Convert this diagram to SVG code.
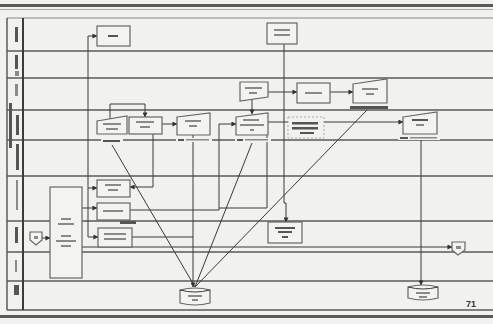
<svg xmlns="http://www.w3.org/2000/svg" width="493" height="324" viewBox="0 0 493 324">
<style>
.lane{stroke:#5a5a5a;stroke-width:1.5;fill:none}
.box{fill:#f3f3ef;stroke:#666;stroke-width:1.2}
.c{stroke:#3a3a3a;stroke-width:1;fill:none}
.ca{stroke:#3a3a3a;stroke-width:1;fill:none;marker-end:url(#ah)}
.t{fill:#8a8a86}
.td{fill:#555552}
.lbl{fill:#f1f1ed}
.pg{font-family:"Liberation Sans",Arial,sans-serif;font-size:9px;font-weight:bold;fill:#333}
</style>
<defs>
<marker id="ah" viewBox="0 0 6 6" refX="5.5" refY="3" markerWidth="5" markerHeight="5" orient="auto" markerUnits="userSpaceOnUse">
<path d="M0,0 L6,3 L0,6 z" fill="#333"/>
</marker>
</defs>
<rect width="493" height="324" fill="#f1f1ed"/>
<rect x="0" y="4" width="493" height="3" fill="#5a5a5a"/>
<rect x="0" y="9" width="493" height="1" fill="#a8a8a4"/>
<rect x="0" y="315" width="493" height="3" fill="#5a5a5a"/>
<g id="lanes">
<line x1="7" y1="18" x2="493" y2="18" stroke="#8a8a86" stroke-width="1.2"/>
<line class="lane" x1="7" y1="51" x2="493" y2="51"/>
<line class="lane" x1="7" y1="78" x2="493" y2="78"/>
<line class="lane" x1="7" y1="110" x2="493" y2="110"/>
<line class="lane" x1="7" y1="140" x2="493" y2="140"/>
<line class="lane" x1="7" y1="176" x2="493" y2="176"/>
<line class="lane" x1="7" y1="221" x2="493" y2="221"/>
<line class="lane" x1="7" y1="252" x2="493" y2="252"/>
<line class="lane" x1="7" y1="281" x2="493" y2="281"/>
<line class="lane" x1="7" y1="310" x2="493" y2="310"/>
<line class="lane" x1="7" y1="18" x2="7" y2="310"/>
<line x1="23" y1="18" x2="23" y2="310" stroke="#3c3c3c" stroke-width="2"/>
<rect class="td" x="15" y="27" width="3" height="15"/>
<rect class="td" x="15" y="55" width="3" height="14"/>
<rect class="t" x="15" y="71" width="4" height="5"/>
<rect class="t" x="15" y="84" width="3" height="12"/>
<rect class="td" x="9" y="103" width="3" height="45"/>
<rect class="td" x="16" y="115" width="3" height="20"/>
<rect class="td" x="16" y="144" width="3" height="26"/>
<rect class="t" x="16" y="180" width="2" height="30"/>
<rect class="td" x="15" y="227" width="3" height="16"/>
<rect class="t" x="15" y="260" width="2" height="12"/>
<rect class="td" x="14" y="285" width="5" height="10"/>
</g>
<g id="connectors">
<path class="ca" d="M88,36 H97"/>
<path class="c" d="M88,36 V237"/>
<path class="ca" d="M88,188 H97"/>
<path class="ca" d="M88,237 H98"/>
<path class="ca" d="M82,208 H97"/>
<path class="ca" d="M130,210 H219 V124 H236"/>
<path class="c" d="M267,135 V208 H219"/>
<path class="ca" d="M110,119 V104 H145 V117"/>
<path class="ca" d="M162,124 H177"/>
<path class="ca" d="M153,134 V187 H130"/>
<path class="ca" d="M252,100 V114"/>
<path class="ca" d="M268,92 H297"/>
<path class="ca" d="M330,92 H353"/>
<path class="ca" d="M284,44 V203 H286 V222"/>
<path class="ca" d="M268,122 H403"/>
<path class="ca" d="M193,135 V287"/>
<path class="c" d="M112,145 L195,287"/>
<path class="c" d="M252,143 L195,287"/>
<path class="c" d="M367,110 L195,287"/>
<path class="ca" d="M421,139 V285"/>
<path class="ca" d="M42,238 H50"/>
<path class="ca" d="M82,247 H452"/>
<path class="c" d="M132,237 H193"/>
</g>
<g id="n1"><rect class="box" x="97" y="26" width="33" height="20"/><rect class="td" x="108" y="35" width="10" height="2"/></g>
<g id="n2"><rect class="box" x="267" y="23" width="30" height="21"/><rect class="t" x="274" y="29" width="16" height="2"/><rect class="t" x="274" y="34" width="16" height="2"/></g>
<g id="n3"><path class="box" d="M240,82 H268 V97 L240,101 Z"/><rect class="t" x="245" y="87" width="17" height="2"/><rect class="t" x="249" y="92" width="8" height="2"/></g>
<g id="n4"><rect class="box" x="297" y="83" width="33" height="20"/><rect class="t" x="305" y="92" width="17" height="2"/></g>
<g id="n5"><path class="box" d="M353,84 L387,79 V103 H353 Z"/><rect class="t" x="362" y="88" width="16" height="2"/><rect class="t" x="366" y="93" width="8" height="2"/><rect class="td" x="350" y="106" width="38" height="3"/></g>
<g id="n6"><path class="box" d="M97,121 L127,116 V134 H97 Z"/><rect class="t" x="103" y="123" width="18" height="2"/><rect class="t" x="106" y="128" width="12" height="2"/><rect class="lbl" x="101" y="138" width="22" height="5"/><rect class="td" x="103" y="140" width="17" height="2"/></g>
<g id="n7"><rect class="box" x="129" y="117" width="33" height="17"/><rect class="t" x="136" y="121" width="18" height="2"/><rect class="t" x="140" y="126" width="10" height="2"/></g>
<g id="n8"><path class="box" d="M177,117 L210,113 V135 H177 Z"/><rect class="t" x="185" y="120" width="16" height="2"/><rect class="t" x="189" y="125" width="8" height="2"/><rect class="lbl" x="176" y="138" width="36" height="4"/><rect class="td" x="178" y="139" width="6" height="2"/><rect class="t" x="186" y="139" width="23" height="1.5"/></g>
<g id="n9"><path class="box" d="M236,117 L268,113 V135 H236 Z"/><rect class="t" x="243" y="119" width="16" height="2"/><rect class="t" x="240" y="124" width="24" height="2"/><rect class="t" x="250" y="129" width="4" height="2"/><rect class="lbl" x="235" y="138" width="36" height="4"/><rect class="td" x="237" y="139" width="6" height="2"/><rect class="t" x="245" y="139" width="23" height="1.5"/></g>
<g id="n10"><rect class="lbl" x="288" y="117" width="36" height="21" stroke="#999" stroke-width="0.8" stroke-dasharray="2,2"/><rect class="td" x="292" y="122" width="26" height="2.5"/><rect class="td" x="292" y="127" width="26" height="2.5"/><rect class="td" x="300" y="132" width="14" height="2"/></g>
<g id="n11"><path class="box" d="M403,117 L437,112 V134 H403 Z"/><rect class="td" x="412" y="119" width="16" height="2"/><rect class="t" x="416" y="124" width="8" height="2"/><rect class="lbl" x="398" y="136" width="42" height="4"/><rect class="td" x="400" y="137" width="8" height="2"/><rect class="t" x="410" y="137" width="27" height="1.5"/></g>
<g id="nA"><rect class="box" x="97" y="180" width="33" height="17"/><rect class="t" x="105" y="184" width="16" height="2"/><rect class="t" x="108" y="189" width="10" height="2"/></g>
<g id="nB"><rect class="box" x="97" y="203" width="33" height="17"/><rect class="t" x="103" y="210" width="20" height="2"/></g>
<g id="nC"><rect class="box" x="98" y="228" width="34" height="19"/><rect class="t" x="104" y="233" width="22" height="2"/><rect class="t" x="104" y="238" width="22" height="2"/></g>
<g id="nE"><rect class="td" x="120" y="221" width="16" height="3"/></g>
<g id="nT"><rect class="box" x="50" y="187" width="32" height="91"/><rect class="t" x="61" y="218" width="10" height="2"/><rect class="t" x="58" y="223" width="16" height="2"/><rect class="t" x="61" y="235" width="10" height="2"/><rect class="t" x="56" y="240" width="20" height="2"/><rect class="t" x="61" y="245" width="10" height="2"/></g>
<g id="nD"><rect class="box" x="268" y="222" width="34" height="21"/><rect class="td" x="275" y="227" width="20" height="2"/><rect class="td" x="278" y="231" width="14" height="2"/><rect class="td" x="282" y="236" width="6" height="2"/></g>
<g id="nL"><path class="box" d="M30,232 H42 V240 L36,245 L30,240 Z"/><rect class="t" x="34" y="236" width="4" height="3"/></g>
<g id="nR"><path class="box" d="M452,242 H465 V250 L458,255 L452,250 Z"/><rect class="t" x="456" y="246" width="5" height="3"/></g>
<g id="cyl1"><path class="box" d="M180,290 Q195,286 210,290 V303 Q195,307 180,303 Z"/><path class="c" d="M180,290 Q195,294 210,290"/><rect class="t" x="188" y="295" width="14" height="2"/><rect class="t" x="192" y="299" width="6" height="2"/></g>
<g id="cyl2"><path class="box" d="M408,287 Q423,283 438,287 V298 Q423,302 408,298 Z"/><path class="c" d="M408,287 Q423,291 438,287"/><rect class="t" x="416" y="292" width="14" height="2"/><rect class="t" x="419" y="296" width="8" height="2"/></g>
<text class="pg" x="466" y="307">71</text>
</svg>
